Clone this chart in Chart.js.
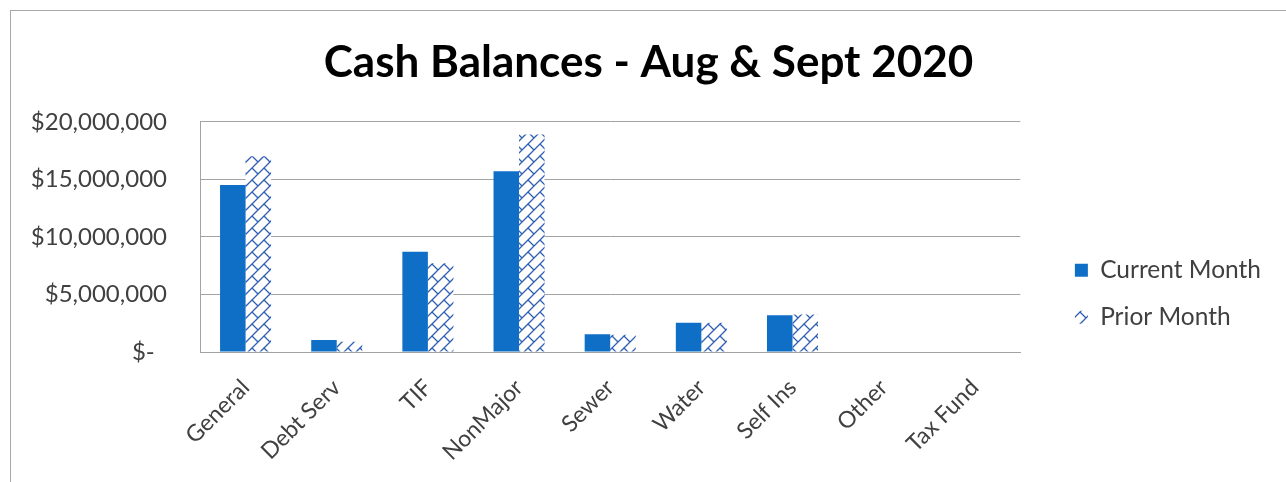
<!DOCTYPE html>
<html><head><meta charset="utf-8">
<script src="https://cdn.jsdelivr.net/npm/chart.js@4"></script>
<style>
html,body{margin:0;padding:0;background:#fff;overflow:hidden}
#wrap{position:relative;width:1286px;height:482px}
#frame{position:absolute;left:10px;top:10px;width:1300px;height:500px;border-left:1px solid #a8a8a8;border-top:1px solid #a8a8a8;pointer-events:none}
canvas{position:absolute;left:0;top:0}
</style></head><body>
<div id="wrap"><canvas id="c" width="1286" height="482"></canvas><div id="frame"></div></div>
<script>
const categories = ['General','Debt Serv','TIF','NonMajor','Sewer','Water','Self Ins','Other','Tax Fund'];
const currentMonth = [14500000, 1050000, 8700000, 15700000, 1550000, 2550000, 3200000, 0, 0];
const priorMonth   = [17000000,  900000, 7700000, 18900000, 1500000, 2550000, 3250000, 0, 0];
const yTickValues = [0, 5000000, 10000000, 15000000, 20000000];
const yTickLabels = ['$-  ', '$5,000,000', '$10,000,000', '$15,000,000', '$20,000,000'];

function makeHatch(color){
  const s = 24, d = 12;
  const cv = document.createElement('canvas'); cv.width = s; cv.height = s;
  const g = cv.getContext('2d');
  g.fillStyle = '#ffffff'; g.fillRect(0, 0, s, s);
  g.strokeStyle = color; g.lineWidth = 1.3; g.lineCap = 'round';
  g.beginPath();
  for (let k = -2; k <= 6; k++) { g.moveTo(-s, d*k + s); g.lineTo(2*s, d*k - 2*s); }
  for (let j = -4; j <= 6; j++) {
    for (let m = -3; m <= 3; m++) {
      const c0 = d*((j & 1) ? 1 : 0) + 2*d*m;
      g.moveTo((d*j + c0)/2, (d*j - c0)/2);
      g.lineTo((d*(j+1) + c0)/2, (d*(j+1) - c0)/2);
    }
  }
  g.stroke();
  return g.createPattern(cv, 'repeat');
}

const FONT = 'Lato';
const TXT = '#404040';
const GRID = '#a3a3a3';

new Chart(document.getElementById('c'), {
  type: 'bar',
  data: {
    labels: categories,
    datasets: [
      { label: 'Current Month', data: currentMonth, backgroundColor: '#0F6FC6', borderWidth: 0,
        categoryPercentage: 0.56, barPercentage: 1.0, yAxisID: 'y' },
      { label: 'Prior Month', data: priorMonth, backgroundColor: makeHatch('#2f5fb5'), borderWidth: 0,
        categoryPercentage: 0.56, barPercentage: 1.0, yAxisID: 'y' }
    ]
  },
  options: {
    responsive: false, animation: false, devicePixelRatio: 1,
    layout: { padding: { left: 26, top: 0, bottom: 0, right: 15 } },
    plugins: {
      title: { display: true, text: 'Cash Balances - Aug & Sept 2020', color: '#000',
        font: { family: FONT, size: 44, weight: 'bold' }, padding: { top: 36, bottom: 33 } },
      legend: { position: 'right', align: 'end', fullSize: false,
        labels: { font: { family: FONT, size: 24.5 }, color: TXT, boxWidth: 13, boxHeight: 13, padding: 22.5 } },
      tooltip: { enabled: false }
    },
    scales: {
      x: {
        grid: { display: false },
        border: { display: true, color: GRID },
        ticks: { font: { family: FONT, size: 23 }, color: TXT, minRotation: 45, maxRotation: 45, padding: 14 },
        afterFit(s) { s.height = 130; }
      },
      y: {
        min: 0, max: 20000000,
        ticks: { stepSize: 5000000, font: { family: FONT, size: 24 }, color: TXT, padding: 33,
          callback: (v) => { const i = yTickValues.indexOf(v); return i >= 0 ? yTickLabels[i] : ''; } },
        grid: { color: GRID, drawTicks: false },
        border: { display: true, color: GRID },
        afterFit(s) { s.width = 174; }
      },
      y1: {
        position: 'right', display: false,
        afterFit(s) { s.width = 32; }
      }
    }
  }
});
</script>
</body></html>
